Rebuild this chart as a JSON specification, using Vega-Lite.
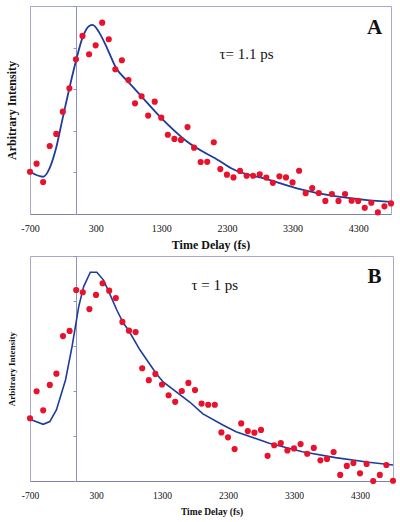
{
 "$schema": "https://vega.github.io/schema/vega-lite/v6.json",
 "background": "white",
 "padding": 5,
 "spacing": 4,
 "config": {
  "view": {"stroke": "#a6a8cc", "strokeWidth": 1},
  "axis": {"grid": false, "labelFont": "Liberation Serif", "titleFont": "Liberation Serif", "titleFontWeight": "bold", "labelColor": "#111", "titleColor": "#111"}
 },
 "datasets": {
  "ptsA": [
   {"t": -700, "v": 20.3}, {"t": -600, "v": 24.2}, {"t": -500, "v": 15.4}, {"t": -400, "v": 32.7}, {"t": -300, "v": 38.5},
   {"t": -200, "v": 49.2}, {"t": -100, "v": 60.4}, {"t": 0, "v": 74.4}, {"t": 100, "v": 85.6}, {"t": 200, "v": 76.8},
   {"t": 300, "v": 81.1}, {"t": 400, "v": 92.0}, {"t": 500, "v": 84.0}, {"t": 600, "v": 69.6}, {"t": 700, "v": 73.9},
   {"t": 800, "v": 64.4}, {"t": 900, "v": 53.2}, {"t": 1000, "v": 56.6}, {"t": 1100, "v": 47.3}, {"t": 1200, "v": 54.0},
   {"t": 1300, "v": 46.3}, {"t": 1400, "v": 38.1}, {"t": 1500, "v": 36.1}, {"t": 1600, "v": 35.6}, {"t": 1700, "v": 41.8},
   {"t": 1800, "v": 31.9}, {"t": 1900, "v": 25.0}, {"t": 2000, "v": 25.1}, {"t": 2100, "v": 34.5}, {"t": 2200, "v": 21.6},
   {"t": 2300, "v": 18.9}, {"t": 2400, "v": 17.6}, {"t": 2500, "v": 20.7}, {"t": 2600, "v": 18.4}, {"t": 2700, "v": 18.4},
   {"t": 2800, "v": 19.1}, {"t": 2900, "v": 17.5}, {"t": 3000, "v": 15.0}, {"t": 3100, "v": 18.1}, {"t": 3200, "v": 17.6},
   {"t": 3300, "v": 15.2}, {"t": 3400, "v": 20.8}, {"t": 3500, "v": 10.0}, {"t": 3600, "v": 12.5}, {"t": 3700, "v": 10.1},
   {"t": 3800, "v": 6.3}, {"t": 3900, "v": 9.6}, {"t": 4000, "v": 6.3}, {"t": 4100, "v": 9.6}, {"t": 4200, "v": 6.4},
   {"t": 4300, "v": 6.3}, {"t": 4400, "v": 3.0}, {"t": 4500, "v": 5.4}, {"t": 4600, "v": 0.8}, {"t": 4700, "v": 3.7},
   {"t": 4800, "v": 5.1}
  ],
  "fitA": [
   {"t": -700, "v": 20.3}, {"t": -500, "v": 17.9}, {"t": -435, "v": 19.9}, {"t": -307, "v": 31.1}, {"t": -206, "v": 45.5},
   {"t": -104, "v": 60.0}, {"t": 0, "v": 73.6}, {"t": 100, "v": 84.8}, {"t": 202, "v": 90.4}, {"t": 253, "v": 90.9},
   {"t": 355, "v": 87.2}, {"t": 482, "v": 79.2}, {"t": 610, "v": 70.3}, {"t": 798, "v": 63.5}, {"t": 997, "v": 56.6},
   {"t": 1298, "v": 46.2}, {"t": 1681, "v": 35.1}, {"t": 2190, "v": 25.5}, {"t": 2389, "v": 21.6}, {"t": 2909, "v": 16.8},
   {"t": 3413, "v": 12.0}, {"t": 3918, "v": 8.7}, {"t": 4438, "v": 6.7}, {"t": 4800, "v": 5.8}
  ],
  "ptsB": [
   {"t": -700, "v": 27.9}, {"t": -600, "v": 39.9}, {"t": -500, "v": 31.4}, {"t": -400, "v": 42.7}, {"t": -300, "v": 47.7},
   {"t": -200, "v": 64.4}, {"t": -100, "v": 66.7}, {"t": 0, "v": 84.9}, {"t": 100, "v": 83.9}, {"t": 200, "v": 76.4},
   {"t": 300, "v": 82.7}, {"t": 400, "v": 87.9}, {"t": 500, "v": 84.6}, {"t": 600, "v": 81.3}, {"t": 700, "v": 70.7},
   {"t": 800, "v": 66.8}, {"t": 900, "v": 66.2}, {"t": 1000, "v": 50.1}, {"t": 1100, "v": 44.8}, {"t": 1200, "v": 47.6},
   {"t": 1300, "v": 42.9}, {"t": 1400, "v": 38.1}, {"t": 1500, "v": 35.2}, {"t": 1600, "v": 40.0}, {"t": 1700, "v": 43.6},
   {"t": 1800, "v": 40.4}, {"t": 1900, "v": 34.4}, {"t": 2000, "v": 33.9}, {"t": 2100, "v": 33.9}, {"t": 2200, "v": 21.6},
   {"t": 2300, "v": 19.4}, {"t": 2400, "v": 14.2}, {"t": 2500, "v": 25.6}, {"t": 2600, "v": 22.2}, {"t": 2700, "v": 21.5},
   {"t": 2800, "v": 22.7}, {"t": 2900, "v": 11.2}, {"t": 3000, "v": 15.9}, {"t": 3100, "v": 16.8}, {"t": 3200, "v": 13.6},
   {"t": 3300, "v": 14.5}, {"t": 3400, "v": 16.4}, {"t": 3500, "v": 12.1}, {"t": 3600, "v": 14.7}, {"t": 3700, "v": 9.2},
   {"t": 3800, "v": 9.8}, {"t": 3900, "v": 12.9}, {"t": 4000, "v": 2.7}, {"t": 4100, "v": 6.7}, {"t": 4200, "v": 8.0},
   {"t": 4300, "v": 3.4}, {"t": 4400, "v": 7.6}, {"t": 4500, "v": 0.0}, {"t": 4600, "v": 2.7}, {"t": 4700, "v": 7.1},
   {"t": 4800, "v": 0.1}
  ],
  "fitB": [
   {"t": -700, "v": 27.4}, {"t": -500, "v": 25.2}, {"t": -400, "v": 26.4}, {"t": -300, "v": 31.6}, {"t": -162, "v": 44.9},
   {"t": -63, "v": 59.7}, {"t": 38, "v": 77.5}, {"t": 113, "v": 86.4}, {"t": 214, "v": 92.8}, {"t": 313, "v": 92.8},
   {"t": 414, "v": 89.3}, {"t": 515, "v": 82.7}, {"t": 615, "v": 76.0}, {"t": 716, "v": 70.1}, {"t": 791, "v": 67.1},
   {"t": 967, "v": 58.2}, {"t": 1217, "v": 47.6}, {"t": 1318, "v": 44.0}, {"t": 1720, "v": 35.1}, {"t": 1920, "v": 29.8},
   {"t": 2222, "v": 24.9}, {"t": 2422, "v": 21.9}, {"t": 2925, "v": 16.8}, {"t": 3427, "v": 13.0}, {"t": 3928, "v": 10.4},
   {"t": 4431, "v": 8.3}, {"t": 4800, "v": 7.1}
  ]
 },
 "vconcat": [
  {
   "width": 361,
   "height": 208,
   "layer": [
    {
     "data": {"name": "fitA"},
     "mark": {"type": "line", "color": "#1f3c9c", "strokeWidth": 1.8, "interpolate": "monotone"},
     "encoding": {
      "x": {"field": "t", "type": "quantitative", "scale": {"domain": [-700, 4800], "nice": false, "zero": false},
            "axis": {"values": [-700, 300, 1300, 2300, 3300, 4300], "labelExpr": "'' + datum.value", "title": "Time Delay (fs)", "titleFontSize": 12, "labelFontSize": 10, "ticks": false, "labelPadding": 9, "titlePadding": 6, "domainColor": "#7d80ad", "labelFlush": false, "labelOverlap": false}},
      "y": {"field": "v", "type": "quantitative", "scale": {"domain": [0, 100], "nice": false},
            "axis": {"orient": "left", "offset": -46, "values": [0, 20, 40, 60, 80, 100], "labels": false, "tickSize": 3, "tickColor": "#8e91bd", "domainColor": "#8e91bd", "title": "Arbitrary Intensity", "titleFontSize": 12, "titleX": -64.5, "titleBaseline": "middle", "titleAngle": 270}}
     }
    },
    {
     "data": {"name": "ptsA"},
     "mark": {"type": "circle", "color": "#e8122c", "size": 38, "opacity": 1},
     "encoding": {"x": {"field": "t", "type": "quantitative"}, "y": {"field": "v", "type": "quantitative"}}
    },
    {
     "data": {"values": [{"t": 2187, "v": 76.9, "label": "τ= 1.1 ps"}]},
     "mark": {"type": "text", "align": "left", "baseline": "middle", "font": "Liberation Serif", "fontSize": 15, "color": "#111"},
     "encoding": {"x": {"field": "t", "type": "quantitative"}, "y": {"field": "v", "type": "quantitative"}, "text": {"field": "label"}}
    },
    {
     "data": {"values": [{"t": 4549, "v": 89.4, "label": "A"}]},
     "mark": {"type": "text", "align": "center", "baseline": "middle", "font": "Liberation Serif", "fontWeight": "bold", "fontSize": 21, "color": "#111"},
     "encoding": {"x": {"field": "t", "type": "quantitative"}, "y": {"field": "v", "type": "quantitative"}, "text": {"field": "label"}}
    }
   ]
  },
  {
   "width": 363,
   "height": 225,
   "layer": [
    {
     "data": {"name": "fitB"},
     "mark": {"type": "line", "color": "#1f3c9c", "strokeWidth": 1.6, "interpolate": "linear"},
     "encoding": {
      "x": {"field": "t", "type": "quantitative", "scale": {"domain": [-700, 4800], "nice": false, "zero": false},
            "axis": {"values": [-700, 300, 1300, 2300, 3300, 4300], "labelExpr": "'' + datum.value", "title": "Time Delay (fs)", "titleFontSize": 9.5, "labelFontSize": 9.5, "ticks": false, "labelPadding": 9, "titlePadding": 7, "domainColor": "#7d80ad", "labelFlush": false, "labelOverlap": false}},
      "y": {"field": "v", "type": "quantitative", "scale": {"domain": [0, 100], "nice": false},
            "axis": {"orient": "left", "offset": -46, "values": [0, 10, 20, 30, 40, 50, 60, 70, 80, 90, 100], "labels": false, "tickSize": 3, "tickColor": "#8e91bd", "domainColor": "#8e91bd", "title": "Arbitrary Intensity", "titleFontSize": 9, "titleX": -64.5, "titleBaseline": "middle", "titleAngle": 270}}
     }
    },
    {
     "data": {"name": "ptsB"},
     "mark": {"type": "circle", "color": "#e8122c", "size": 38, "opacity": 1},
     "encoding": {"x": {"field": "t", "type": "quantitative"}, "y": {"field": "v", "type": "quantitative"}}
    },
    {
     "data": {"values": [{"t": 1747, "v": 87.1, "label": "τ = 1 ps"}]},
     "mark": {"type": "text", "align": "left", "baseline": "middle", "font": "Liberation Serif", "fontSize": 15, "color": "#111"},
     "encoding": {"x": {"field": "t", "type": "quantitative"}, "y": {"field": "v", "type": "quantitative"}, "text": {"field": "label"}}
    },
    {
     "data": {"values": [{"t": 4520, "v": 90.7, "label": "B"}]},
     "mark": {"type": "text", "align": "center", "baseline": "middle", "font": "Liberation Serif", "fontWeight": "bold", "fontSize": 21, "color": "#111"},
     "encoding": {"x": {"field": "t", "type": "quantitative"}, "y": {"field": "v", "type": "quantitative"}, "text": {"field": "label"}}
    }
   ]
  }
 ]
}
